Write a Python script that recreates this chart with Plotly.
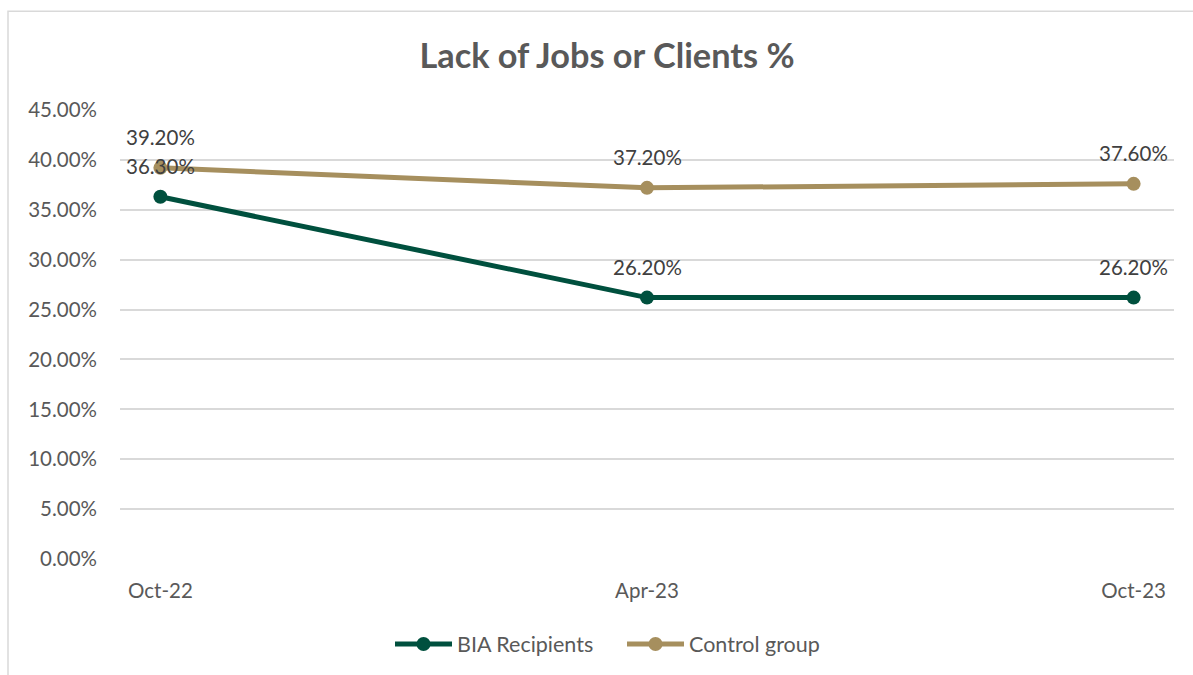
import plotly.graph_objects as go

# Survey waves and share reporting lack of jobs or clients (%)
periods = ["Oct-22", "Apr-23", "Oct-23"]
bia_recipients = [36.3, 26.2, 26.2]
control_group = [39.2, 37.2, 37.6]
y_ticks = [0, 5, 10, 15, 20, 25, 30, 35, 40, 45]

GREEN = "#00503E"
TAN = "#A68F5E"
FONT = "Lato, Calibri, Arial, sans-serif"

W, H = 1193, 675
M_L, M_R, M_T, M_B = 120, 19, 110, 115
plot_w = W - M_L - M_R
plot_h = H - M_T - M_B

fig = go.Figure()
for name, vals, col in [("BIA Recipients", bia_recipients, GREEN),
                        ("Control group", control_group, TAN)]:
    fig.add_trace(go.Scatter(
        x=periods, y=vals, name=name, mode="lines+markers",
        line=dict(color=col, width=5),
        marker=dict(color=col, size=14),
        hoverinfo="skip",
    ))
    for p, v in zip(periods, vals):
        fig.add_annotation(
            x=p, y=v, text=f"{v:.2f}%", showarrow=False,
            yshift=31, font=dict(family=FONT, size=20.5, color="#404040"),
        )

# Light chart-area frame (top and left edges)
px_to_paper_x = lambda px: (px - M_L) / plot_w
px_to_paper_y = lambda py: (H - M_B - py) / plot_h
fig.add_shape(type="rect", xref="paper", yref="paper",
              x0=px_to_paper_x(8), x1=px_to_paper_x(1250),
              y0=px_to_paper_y(720), y1=px_to_paper_y(11),
              line=dict(color="#D9D9D9", width=1.5), layer="below")

fig.update_layout(
    width=W, height=H,
    margin=dict(l=M_L, r=M_R, t=M_T, b=M_B),
    paper_bgcolor="white", plot_bgcolor="white",
    title=dict(text="<b>Lack of Jobs or Clients %</b>", x=px_to_paper_x(607),
               xanchor="center", xref="paper",
               y=1 - 56 / H, yanchor="middle",
               font=dict(family=FONT, size=34.3, color="#595959")),
    font=dict(family=FONT, size=20.5, color="#595959"),
    showlegend=True,
    legend=dict(orientation="h", x=px_to_paper_x(622), xanchor="center",
                y=px_to_paper_y(644), yanchor="middle",
                font=dict(family=FONT, size=21.5, color="#595959"),
                itemwidth=57, entrywidth=160, entrywidthmode="pixels"),
    xaxis=dict(type="category", range=[-0.083, 2.083], showgrid=False,
               zeroline=False, showline=False, ticks="",
               ticklabelstandoff=17, tickfont=dict(size=20.5, color="#595959")),
    yaxis=dict(range=[0, 45], tickvals=y_ticks,
               ticktext=[f"{t:.2f}%" for t in y_ticks],
               showgrid=True, gridcolor="#D9D9D9", gridwidth=1.5,
               zeroline=False, showline=False, ticks="",
               ticklabelstandoff=22, tickfont=dict(size=20.5, color="#595959")),
)

fig.write_html("out.html")
